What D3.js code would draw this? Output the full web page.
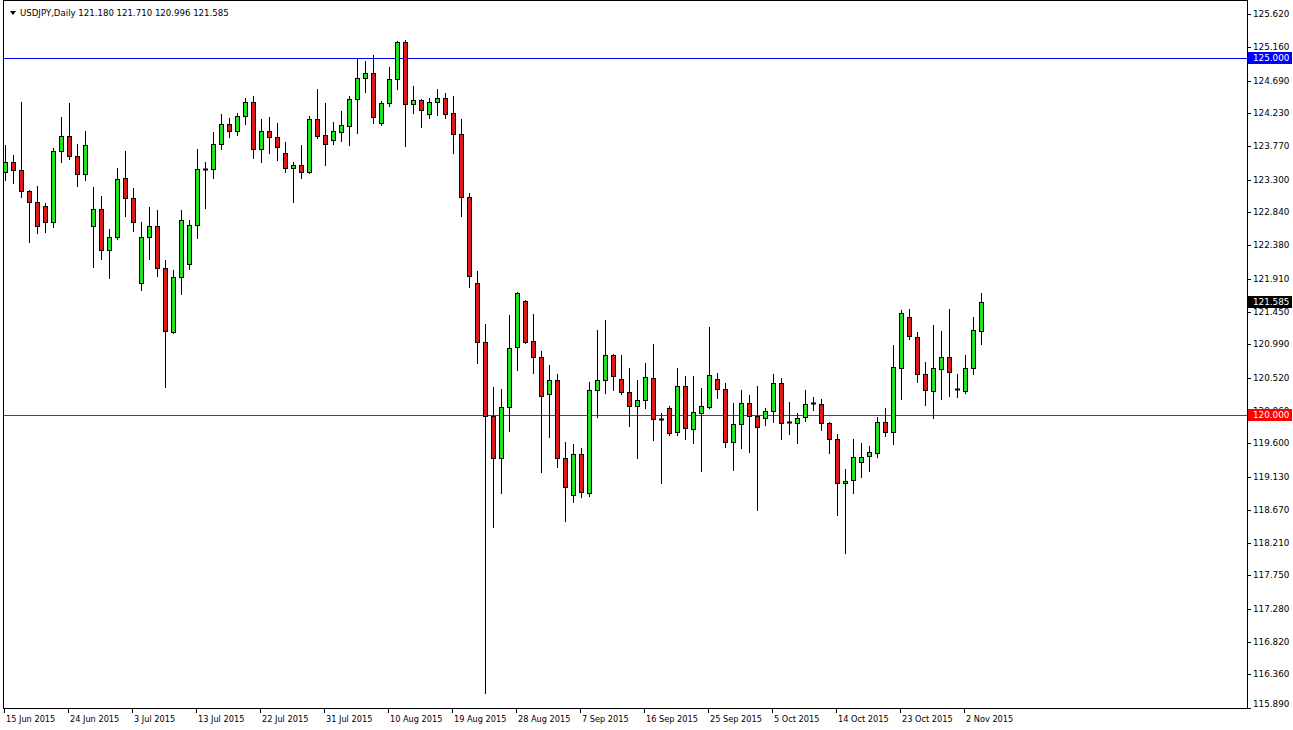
<!DOCTYPE html>
<html><head><meta charset="utf-8">
<script src="https://cdn.jsdelivr.net/npm/d3@7"></script>
<style>html,body{margin:0;padding:0;background:#fff;overflow:hidden}svg{display:block}text{font-family:"DejaVu Sans",sans-serif}</style>
</head><body><svg id="chart" width="1293" height="730"></svg>
<script>
const symbolName = "USDJPY,Daily";
const dates = [
"2015-06-15","2015-06-16","2015-06-17","2015-06-18","2015-06-19","2015-06-21",
"2015-06-22","2015-06-23","2015-06-24","2015-06-25","2015-06-26","2015-06-28",
"2015-06-29","2015-06-30","2015-07-01","2015-07-02","2015-07-03","2015-07-05",
"2015-07-06","2015-07-07","2015-07-08","2015-07-09","2015-07-10","2015-07-12",
"2015-07-13","2015-07-14","2015-07-15","2015-07-16","2015-07-17","2015-07-19",
"2015-07-20","2015-07-21","2015-07-22","2015-07-23","2015-07-24","2015-07-26",
"2015-07-27","2015-07-28","2015-07-29","2015-07-30","2015-07-31","2015-08-02",
"2015-08-03","2015-08-04","2015-08-05","2015-08-06","2015-08-07","2015-08-09",
"2015-08-10","2015-08-11","2015-08-12","2015-08-13","2015-08-14","2015-08-16",
"2015-08-17","2015-08-18","2015-08-19","2015-08-20","2015-08-21","2015-08-23",
"2015-08-24","2015-08-25","2015-08-26","2015-08-27","2015-08-28","2015-08-30",
"2015-08-31","2015-09-01","2015-09-02","2015-09-03","2015-09-04","2015-09-06",
"2015-09-07","2015-09-08","2015-09-09","2015-09-10","2015-09-11","2015-09-13",
"2015-09-14","2015-09-15","2015-09-16","2015-09-17","2015-09-18","2015-09-20",
"2015-09-21","2015-09-22","2015-09-23","2015-09-24","2015-09-25","2015-09-27",
"2015-09-28","2015-09-29","2015-09-30","2015-10-01","2015-10-02","2015-10-04",
"2015-10-05","2015-10-06","2015-10-07","2015-10-08","2015-10-09","2015-10-11",
"2015-10-12","2015-10-13","2015-10-14","2015-10-15","2015-10-16","2015-10-18",
"2015-10-19","2015-10-20","2015-10-21","2015-10-22","2015-10-23","2015-10-25",
"2015-10-26","2015-10-27","2015-10-28","2015-10-29","2015-10-30","2015-11-01",
"2015-11-02","2015-11-03","2015-11-04"];
const open = [
123.412,123.544,123.436,123.142,122.983,122.927,122.703,123.698,123.913,123.633,123.376,122.651,
122.885,122.310,122.492,123.320,123.039,121.847,122.492,122.651,122.057,121.168,121.931,122.114,
122.661,123.446,123.446,123.797,124.081,123.987,124.194,124.386,123.727,123.983,123.895,123.670,
123.460,123.506,123.404,124.151,123.923,123.853,123.973,124.058,124.428,124.722,124.792,124.100,
124.372,124.708,125.227,124.358,124.414,124.217,124.386,124.442,124.231,123.937,123.053,121.847,
121.020,119.986,119.393,120.116,120.950,121.603,121.034,120.809,120.290,120.491,119.393,118.878,
119.449,118.910,120.351,120.487,120.842,120.505,120.318,120.130,120.210,120.515,119.940,120.094,
119.757,120.407,119.799,120.024,120.116,120.505,120.360,119.617,119.870,120.164,119.990,119.954,
120.060,120.445,119.898,119.884,119.968,120.164,120.154,119.892,119.659,119.042,119.088,119.345,
119.429,119.471,119.898,119.766,120.663,121.370,121.090,120.571,120.337,120.641,120.818,120.360,
120.341,120.655,121.180];
const high = [
123.787,123.647,124.394,123.156,123.212,122.969,123.741,124.184,124.380,123.801,123.983,123.194,
123.072,122.609,123.460,123.703,123.188,122.703,122.917,122.875,122.174,122.034,122.875,122.735,
123.731,123.548,123.969,124.222,124.161,124.240,124.450,124.474,124.151,124.175,124.091,123.825,
123.553,123.787,124.194,124.568,124.380,124.105,124.264,124.474,125.003,124.965,125.049,124.408,
124.877,125.245,125.259,124.614,124.428,124.442,124.568,124.520,124.474,124.147,123.109,122.020,
121.276,120.388,120.360,121.403,121.721,121.613,121.417,120.902,120.701,120.575,119.617,119.593,
119.533,120.467,121.192,121.332,120.856,120.842,120.655,120.491,120.734,120.996,120.024,120.130,
120.655,120.547,120.547,120.383,121.238,120.585,120.445,120.164,120.351,120.281,120.407,120.102,
120.575,120.515,120.187,120.024,120.351,120.248,120.220,119.906,119.734,119.238,119.659,119.603,
119.565,119.968,120.094,120.982,121.473,121.482,121.168,120.748,121.262,121.178,121.482,120.571,
120.842,121.370,121.710];
const low = [
123.296,123.250,123.053,122.422,122.548,122.562,122.641,123.544,123.586,123.216,123.296,122.080,
122.184,121.926,122.473,122.795,122.585,121.753,122.184,121.950,120.397,121.146,121.693,122.048,
122.487,122.907,123.328,123.731,123.903,123.927,124.077,123.609,123.553,123.670,123.576,123.412,
122.992,123.320,123.390,123.889,123.506,123.805,123.843,123.787,123.959,124.534,124.091,124.067,
124.334,124.572,123.773,124.240,124.043,124.170,124.208,124.170,123.679,122.795,121.799,120.725,
116.097,118.433,118.910,119.780,120.631,121.006,120.585,119.205,119.687,119.275,118.518,118.784,
118.846,118.864,119.972,120.304,120.351,120.295,119.846,119.393,120.094,119.649,119.050,119.719,
119.719,119.659,119.612,119.219,120.094,120.243,119.555,119.229,119.541,119.485,118.668,119.860,
119.898,119.663,119.734,119.612,119.920,120.070,119.790,119.471,118.597,118.060,118.902,119.126,
119.219,119.407,119.710,119.589,120.220,121.062,120.467,120.140,119.954,120.220,120.266,120.248,
120.304,120.575,120.996];
const close = [
123.553,123.432,123.142,122.983,122.651,122.703,123.703,123.913,123.628,123.376,123.783,122.885,
122.310,122.492,123.306,123.039,122.703,122.492,122.651,122.057,121.182,121.931,122.735,122.661,
123.446,123.446,123.797,124.081,123.987,124.194,124.386,123.727,123.983,123.895,123.755,123.460,
123.506,123.404,124.151,123.917,123.797,123.983,124.063,124.428,124.722,124.792,124.184,124.372,
124.708,125.227,124.358,124.414,124.274,124.390,124.442,124.217,123.937,123.053,121.954,121.020,
119.986,119.393,120.116,120.935,121.707,121.028,120.809,120.271,120.491,119.393,118.986,119.449,
118.924,120.351,120.491,120.842,120.551,120.327,120.130,120.210,120.529,119.944,119.940,119.752,
120.407,119.813,120.038,120.126,120.561,120.360,119.617,119.870,120.164,119.990,119.836,120.060,
120.445,119.884,119.898,119.954,120.154,120.164,119.884,119.659,119.042,119.079,119.407,119.415,
119.477,119.898,119.766,120.669,121.426,121.108,120.571,120.351,120.655,120.818,120.599,120.360,
120.655,121.192,121.585];
const priceTicks = [125.620,125.160,124.690,124.230,123.770,123.300,122.840,122.380,121.910,121.450,
120.990,120.520,120.060,119.600,119.130,118.670,118.210,117.750,117.280,116.820,116.360,115.890];
const dateTicks = ["2015-06-15","2015-06-24","2015-07-03","2015-07-13","2015-07-22","2015-07-31",
"2015-08-10","2015-08-19","2015-08-28","2015-09-07","2015-09-16","2015-09-25","2015-10-05",
"2015-10-14","2015-10-23","2015-11-02"];
const levelLines = [125.000, 120.000];

// ---- layout / style ----
const W = 1293, H = 730;
const plot = {left: 3, top: 1, right: 1247, bottom: 708};
const upColor = "#1ee61e", downColor = "#e01818";
const levelColors = ["#0000ff", "#ff0000"];

const svg = d3.select("#chart");
svg.append("rect").attr("width", W).attr("height", H).attr("fill", "#fff");

const x = d3.scaleBand().domain(dates).range([1, 1 + 8 * dates.length]).paddingInner(0).paddingOuter(0);
const cx = d => Math.round(x(d) + x.bandwidth() / 2);
const y = d3.scaleLinear().domain([115.89, 125.82]).range([708, 0]);
const fmt = d3.format(".3f");
const parse = d3.timeParse("%Y-%m-%d");
const dfmt = d3.timeFormat("%-d %b %Y");

const bars = dates.map((d, i) => ({d, o: open[i], h: high[i], l: low[i], c: close[i]}));

// frame
svg.append("rect").attr("x", plot.left + 0.5).attr("y", plot.top - 0.5)
  .attr("width", plot.right - plot.left).attr("height", plot.bottom - plot.top + 1)
  .attr("fill", "none").attr("stroke", "#000").attr("stroke-width", 1);

svg.append("clipPath").attr("id", "pc").append("rect")
  .attr("x", plot.left + 1).attr("y", plot.top).attr("width", plot.right - plot.left - 1).attr("height", plot.bottom - plot.top);
const g = svg.append("g").attr("clip-path", "url(#pc)");

// level lines
levelLines.forEach((v, i) => {
  g.append("rect").attr("x", plot.left + 1).attr("width", plot.right - plot.left - 1)
    .attr("y", Math.round(y(v))).attr("height", 1)
    .attr("fill", levelColors[i]).attr("shape-rendering", "crispEdges");
});

// wicks
g.selectAll("line.wick").data(bars).enter().append("line").attr("class", "wick")
  .attr("x1", b => cx(b.d) + 0.5).attr("x2", b => cx(b.d) + 0.5)
  .attr("y1", b => Math.round(y(b.h))).attr("y2", b => Math.round(y(b.l)) + 1)
  .attr("stroke", "#000").attr("stroke-width", 1);

// bodies
g.selectAll("rect.body").data(bars.filter(b => Math.abs(y(b.o) - y(b.c)) >= 1.5)).enter().append("rect").attr("class", "body")
  .attr("x", b => cx(b.d) - 1.5)
  .attr("y", b => Math.round(y(Math.max(b.o, b.c))) + 0.5)
  .attr("width", 4)
  .attr("height", b => Math.max(1, Math.round(y(Math.min(b.o, b.c))) - Math.round(y(Math.max(b.o, b.c)))))
  .attr("fill", b => b.c >= b.o ? upColor : downColor)
  .attr("stroke", "#000").attr("stroke-width", 1);

// doji
g.selectAll("line.doji").data(bars.filter(b => Math.abs(y(b.o) - y(b.c)) < 1.5)).enter().append("line").attr("class", "doji")
  .attr("x1", b => cx(b.d) - 2).attr("x2", b => cx(b.d) + 3)
  .attr("y1", b => Math.round(y(b.c)) + 0.5).attr("y2", b => Math.round(y(b.c)) + 0.5)
  .attr("stroke", "#000").attr("stroke-width", 2);

// price axis
const priceFont = 8.8;
const ya = svg.append("g");
priceTicks.forEach(v => {
  const yy = Math.round(y(v));
  ya.append("line").attr("x1", plot.right + 1).attr("x2", plot.right + 4)
    .attr("y1", yy + 0.5).attr("y2", yy + 0.5).attr("stroke", "#000");
  ya.append("text").attr("x", plot.right + 6).attr("y", Math.min(yy, plot.bottom - 4) + 3)
    .attr("font-size", priceFont).attr("fill", "#000").text(fmt(v));
});

// level labels and current price label
function priceBox(v, bg) {
  const yy = Math.round(y(v));
  ya.append("rect").attr("x", plot.right + 1).attr("y", yy - 6).attr("width", 44).attr("height", 12).attr("fill", bg);
  ya.append("text").attr("x", plot.right + 6).attr("y", yy + 3)
    .attr("font-size", priceFont).attr("fill", "#fff").text(fmt(v));
}
levelLines.forEach((v, i) => priceBox(v, levelColors[i]));
priceBox(close[close.length - 1], "#000");

// date axis
const xa = svg.append("g");
dateTicks.forEach(d => {
  const xx = cx(d);
  xa.append("line").attr("x1", xx - 0.5).attr("x2", xx - 0.5).attr("y1", plot.bottom).attr("y2", plot.bottom + 5).attr("stroke", "#000");
  xa.append("text").attr("x", xx + 1).attr("y", 722).attr("font-size", 8.2).attr("fill", "#000").text(dfmt(parse(d)));
});

// header
const last = bars[bars.length - 1];
svg.append("path").attr("d", "M10,11 L16,11 L13,15 Z").attr("fill", "#000");
svg.append("text").attr("x", 20).attr("y", 16).attr("font-size", 8.6).attr("fill", "#000")
  .text(symbolName + "  " + [last.o, last.h, last.l, last.c].map(fmt).join(" "));
</script></body></html>
